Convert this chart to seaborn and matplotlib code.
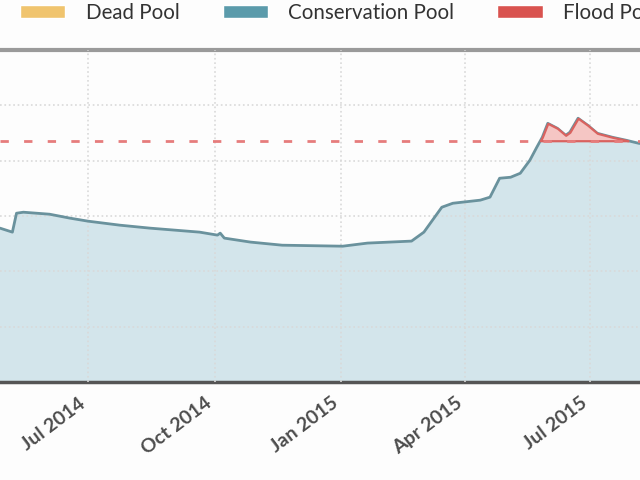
import numpy as np
import pandas as pd
import seaborn as sns
import matplotlib.pyplot as plt
from matplotlib.patches import Patch

sns.set_theme(style="whitegrid")
plt.rcParams['font.family'] = ['Lato', 'DejaVu Sans']

# lake level readings (ft)
dates = ['2014-04-28', '2014-05-07', '2014-05-10', '2014-05-15', '2014-06-03',
         '2014-06-18', '2014-07-01', '2014-07-24', '2014-08-15', '2014-09-20',
         '2014-10-03', '2014-10-05', '2014-10-08', '2014-10-27', '2014-11-19',
         '2015-01-02', '2015-01-20', '2015-02-21', '2015-03-02', '2015-03-15',
         '2015-03-23', '2015-04-12', '2015-04-19', '2015-04-26', '2015-05-04',
         '2015-05-11', '2015-05-18', '2015-05-23', '2015-05-27', '2015-05-31',
         '2015-06-07', '2015-06-13', '2015-06-16', '2015-06-22', '2015-06-29',
         '2015-07-06', '2015-07-17', '2015-07-27', '2015-08-05', '2015-08-21']
levels = [603.90, 603.54, 605.25, 605.34, 605.16,
          604.80, 604.53, 604.17, 603.90, 603.54,
          603.27, 603.45, 603.00, 602.64, 602.36,
          602.27, 602.55, 602.73, 603.54, 605.79,
          606.15, 606.43, 606.70, 608.41, 608.50,
          608.86, 610.04, 611.21, 612.11, 613.37,
          612.92, 612.29, 612.56, 613.83, 613.20,
          612.47, 612.11, 611.84, 611.57, 611.30]
flood_level = 611.8
bottom_level = 590

tick_dates = ['2014-07-01', '2014-10-01', '2015-01-01', '2015-04-01', '2015-07-01', '2015-10-01']
tick_labels = ['Jul 2014', 'Oct 2014', 'Jan 2015', 'Apr 2015', 'Jul 2015', 'Oct 2015']

df = pd.DataFrame({'date': pd.to_datetime(dates), 'level': levels})
lv = df['level'].to_numpy()

fig = plt.figure(figsize=(6.4, 4.8), dpi=100)
fig.patch.set_facecolor('#fdfdfd')
ax = fig.add_axes([0, 0.2042, 1, 0.6917])
ax.set_facecolor('#fdfdfd')

ax.fill_between(df['date'], bottom_level, np.minimum(lv, flood_level),
                color='#d3e5eb', zorder=1, linewidth=0)
sns.lineplot(data=df, x='date', y='level', ax=ax, color='#6a929d', linewidth=2, zorder=3)
ax.fill_between(df['date'], flood_level, lv, where=lv > flood_level, interpolate=True,
                facecolor='#f5c6c4', edgecolor='#d9625f', linewidth=1.6, zorder=4)
ax.axhline(flood_level, color='#e67c7c', linewidth=2, dashes=(3, 5.5), zorder=5)

ax.set_yticks([595, 600, 605, 610, 615])
ax.set_yticklabels([])
ax.set_xticks(pd.to_datetime(tick_dates))
ax.set_xticklabels(tick_labels, rotation=37, ha='right',
                   fontsize=14, fontweight='bold', color='#4d4d4d')
ax.set_xlim(pd.Timestamp('2014-04-28'), pd.Timestamp('2015-08-06'))
ax.set_ylim(bottom_level, 620)
ax.tick_params(axis='x', pad=9, length=0)
ax.tick_params(axis='y', length=0)
ax.set_xlabel('')
ax.set_ylabel('')

ax.set_axisbelow(False)
ax.grid(True, color='#d9d9d9', linestyle=':', linewidth=1.2, zorder=2)

for side in ['left', 'right']:
    ax.spines[side].set_visible(False)
ax.spines['top'].set_color('#9a9a9a')
ax.spines['top'].set_linewidth(3)
ax.spines['bottom'].set_color('#555555')
ax.spines['bottom'].set_linewidth(2.5)

handles = [Patch(facecolor='#f0c46e', label='Dead Pool'),
           Patch(facecolor='#5b9bab', label='Conservation Pool'),
           Patch(facecolor='#d9534f', label='Flood Pool')]
fig.legend(handles=handles, loc='upper left', bbox_to_anchor=(0.031, 0.994), ncol=3,
           frameon=False, fontsize=14.8, handlelength=2.2, handleheight=0.63,
           handletextpad=1.0, columnspacing=2.1, borderaxespad=0, borderpad=0,
           labelcolor='#333333')

fig.savefig('out.png', dpi=100, facecolor=fig.get_facecolor())
